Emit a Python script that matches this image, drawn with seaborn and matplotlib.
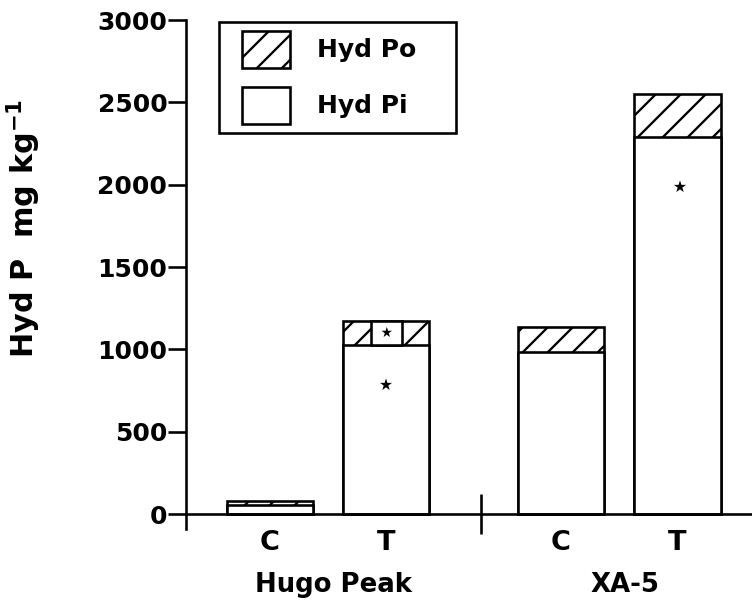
import pandas as pd
import matplotlib
matplotlib.use("Agg")
import matplotlib.pyplot as plt
import seaborn as sns
from matplotlib.patches import Patch, Rectangle
from matplotlib.legend_handler import HandlerPatch

##### data
sites = ["Hugo Peak", "Hugo Peak", "XA-5", "XA-5"]
treatments = ["C", "T", "C", "T"]
hyd_pi = [55, 1026, 984, 2289]
hyd_total = [80, 1172, 1135, 2550]   # Pi + Po
star_pi_y = [783, 1985]              # asterisks inside Pi part of the T bars

pos = [0, 1, 2.5, 3.5]
df = pd.DataFrame({"site": sites, "trt": treatments, "pos": pos,
                   "pi": hyd_pi, "total": hyd_total})

##### style
sns.set_style("ticks")
plt.rcParams['font.family'] = ['DejaVu Sans']
plt.rcParams['font.weight'] = 'bold'
plt.rcParams['mathtext.fontset'] = 'dejavusans'
plt.rcParams['mathtext.default'] = 'bf'
plt.rcParams['hatch.linewidth'] = 1.1
for k in ['text.color', 'axes.labelcolor', 'xtick.color', 'ytick.color', 'axes.edgecolor']:
    plt.rcParams[k] = 'black'

lw = 1.25
fig = plt.figure(figsize=(752 / 150, 600 / 150), dpi=150)
ax = fig.add_axes([186 / 752, 1 - 529 / 600, 566 / 752, 509 / 600])

# Po on top: draw the full height hatched, then Pi in white over it
sns.barplot(data=df, x="pos", y="total", native_scale=True, width=0.74,
            color="white", saturation=1, edgecolor="black", linewidth=lw,
            hatch="//", errorbar=None, ax=ax)
sns.barplot(data=df, x="pos", y="pi", native_scale=True, width=0.74,
            color="white", saturation=1, edgecolor="black", linewidth=lw,
            errorbar=None, ax=ax)

ax.set_xlim(-0.72, 4.14)
ax.set_ylim(-91, 3000)
ax.set_yticks(range(0, 3001, 500))
ax.spines['top'].set_visible(False)
ax.spines['right'].set_visible(False)
ax.spines['bottom'].set_position(('data', 0))
for s in ['left', 'bottom']:
    ax.spines[s].set_linewidth(lw)
    ax.spines[s].set_color('black')

ax.set_xticks(pos)
ax.set_xticklabels(treatments, fontsize=13, fontweight='bold')
ax.tick_params(axis='x', which='major', length=0, pad=7.5)
ax.set_xticks([(pos[1] + pos[2]) / 2 + 0.06], minor=True)
ax.tick_params(axis='x', which='minor', direction='inout', length=19, width=lw)
ax.tick_params(axis='y', direction='out', length=8.5, width=lw, pad=0.5, labelsize=12)

ax.set_xlabel("")
ax.set_ylabel("Hyd P  mg kg$^{-1}$", fontsize=14.5, fontweight='bold')
ax.yaxis.set_label_coords(-0.252, 0.59)

# site names under the C / T labels
for site in ["Hugo Peak", "XA-5"]:
    xc = df.loc[df.site == site, "pos"].mean() + 0.05
    ax.text(xc, -0.124, site, transform=ax.get_xaxis_transform(),
            ha='center', va='baseline', fontsize=12.5, fontweight='bold')

# asterisks
t_bars = df[df.trt == "T"].reset_index(drop=True)
for i, row in t_bars.iterrows():
    ax.text(row.pos + 0.02 * i, star_pi_y[i], "★", family='DejaVu Sans',
            fontsize=7.5, ha='center', va='center')
hp = t_bars.iloc[0]
ax.text(hp.pos, (hp.pi + hp.total) / 2, " ★ ", family='DejaVu Sans', fontsize=6.5,
        ha='center', va='center',
        bbox=dict(boxstyle='square,pad=0.36', fc='white', ec='black', lw=lw))


# legend: handle shifted right inside its box
def shifted_patch(legend, orig_handle, xdescent, ydescent, width, height, fontsize):
    shift = 6.7
    return Rectangle((-xdescent + shift, -ydescent), width - shift, height)


handles = [Patch(facecolor='white', edgecolor='black', hatch='//', linewidth=lw, label='Hyd Po'),
           Patch(facecolor='white', edgecolor='black', linewidth=lw, label='Hyd Pi')]
leg = ax.legend(handles=handles, loc='upper left', mode='expand',
                bbox_to_anchor=(219 / 752, 1 - 152 / 600, 237 / 752, 130 / 600),
                bbox_transform=fig.transFigure, borderaxespad=0,
                fontsize=12, frameon=True, fancybox=False, edgecolor='black',
                framealpha=1, borderpad=0.35, labelspacing=0.75,
                handlelength=2.48, handleheight=1.92, handletextpad=1.08,
                handler_map={Patch: HandlerPatch(patch_func=shifted_patch)})
leg.get_frame().set_linewidth(lw)
for t in leg.get_texts():
    t.set_fontweight('bold')
    t.set_color('black')

plt.savefig("out.png", dpi=150)
